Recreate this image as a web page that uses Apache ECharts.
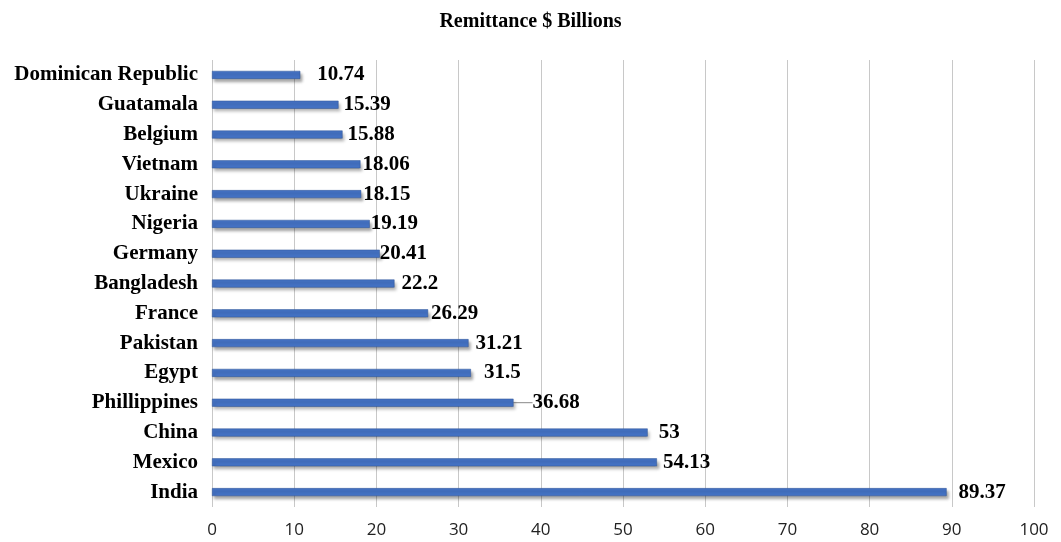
<!DOCTYPE html>
<html><head><meta charset="utf-8">
<script src="https://cdn.jsdelivr.net/npm/echarts@6/dist/echarts.min.js"></script>
<style>html,body{margin:0;padding:0;background:#fff}#c{width:1061px;height:542px}</style>
</head><body><div id="c"></div>
<script>
var categories = ["India","Mexico","China","Phillippines","Egypt","Pakistan","France","Bangladesh","Germany","Nigeria","Ukraine","Vietnam","Belgium","Guatamala","Dominican Republic"];
var values = [89.37,54.13,53,36.68,31.5,31.21,26.29,22.2,20.41,19.19,18.15,18.06,15.88,15.39,10.74];
var xTicks = [0,10,20,30,40,50,60,70,80,90,100];
// label gaps (styling only), in px, per bar
var labelGaps = [12,6,11,6,13,7,3,7,0,1,2,2,5,5,17];
var chart = echarts.init(document.getElementById('c'));
var seriesData = values.map(function(v,i){
  var item = {value:v, label:{distance:labelGaps[i]}};
  if (categories[i]==='Phillippines') {
    item.labelLine = {show:true, lineStyle:{color:'#888',width:1}};
  }
  return item;
});
chart.setOption({
  animation:false,
  backgroundColor:'#fff',
  title:{text:'Remittance $ Billions',left:'center',top:7,textStyle:{fontFamily:'Liberation Serif',fontWeight:'bold',fontSize:20,color:'#000'}},
  grid:{left:212,right:27,top:60,bottom:35},
  xAxis:{type:'value',min:xTicks[0],max:xTicks[xTicks.length-1],interval:10,
    axisLine:{show:false},axisTick:{show:false},
    splitLine:{lineStyle:{color:'#c8c8c8',width:1}},
    axisLabel:{fontFamily:'Open Sans',fontSize:17,color:'#222',margin:15}},
  yAxis:{type:'category',data:categories,
    axisLine:{show:false},axisTick:{show:false},
    axisLabel:{fontFamily:'Liberation Serif',fontWeight:'bold',fontSize:21,color:'#000',margin:14}},
  series:[{type:'bar',data:seriesData,barWidth:8,
    itemStyle:{color:'#4472C4',borderColor:'#2f5597',borderWidth:0.5,shadowColor:'rgba(0,0,0,0.35)',shadowBlur:3,shadowOffsetX:2,shadowOffsetY:3},
    label:{show:true,position:'right',fontFamily:'Liberation Serif',fontWeight:'bold',fontSize:21,color:'#000'},
    labelLine:{show:false},
    labelLayout:function(p){ return categories[p.dataIndex]==='Phillippines' ? {dx:13} : {}; }
  }]
});
</script></body></html>
